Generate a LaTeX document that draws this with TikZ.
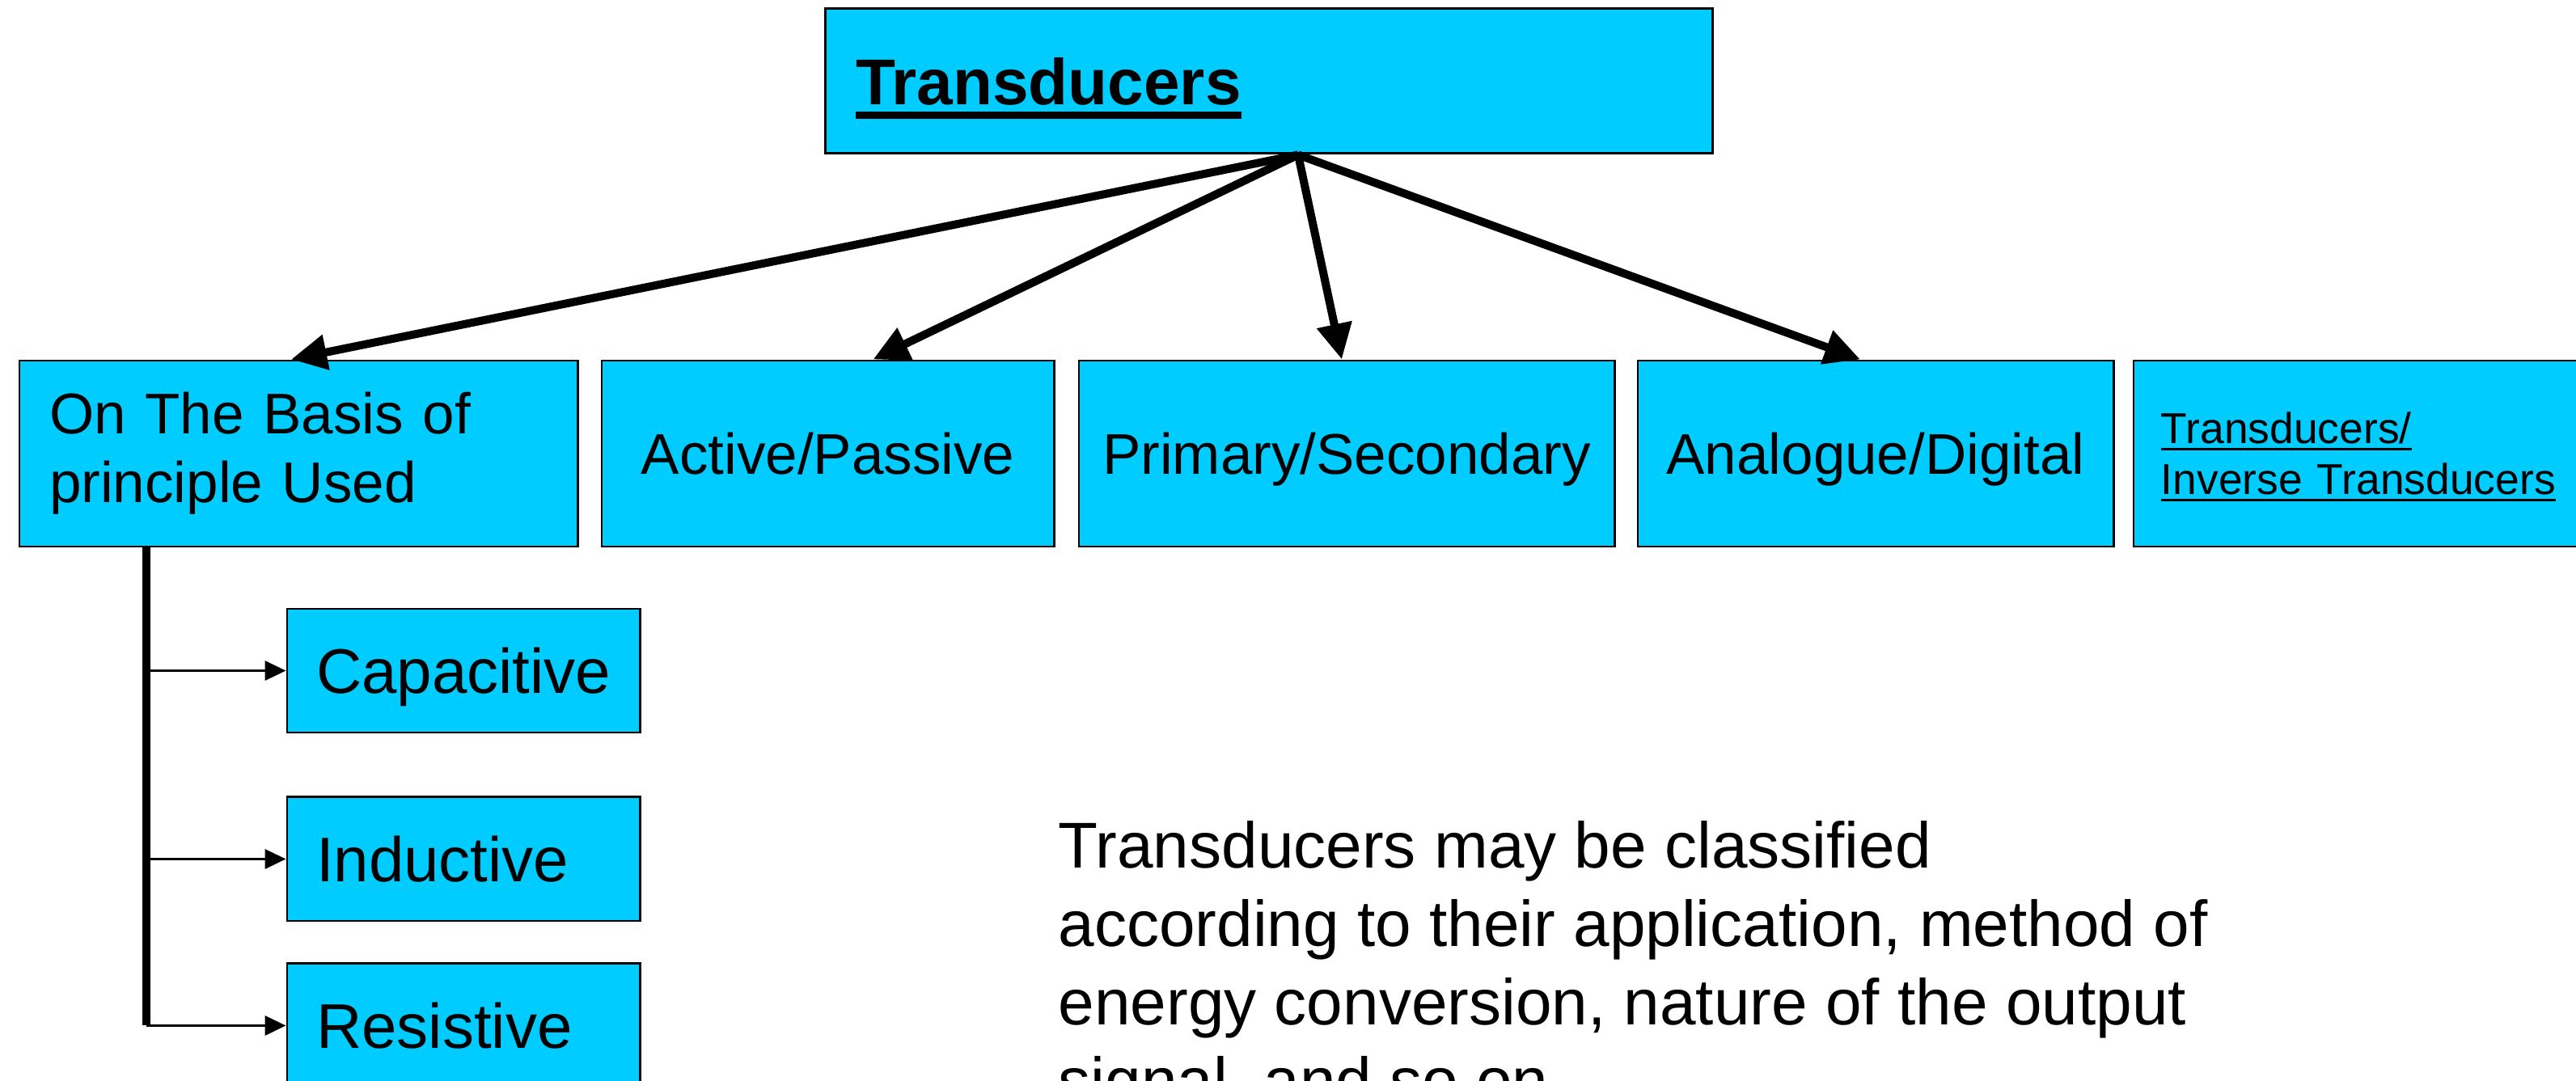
\documentclass[tikz,border=0pt]{standalone}
\usepackage{fontspec}
\setmainfont{Liberation Sans}
\usepackage{tikz}
\usetikzlibrary{arrows.meta, positioning}
\definecolor{boxcyan}{RGB}{0, 204, 255}

% underline with a given rule thickness
\newcommand{\undl}[2][0.06em]{\leavevmode\setbox0\hbox{#2}%
  \rlap{\smash{\rule[\dimexpr-0.1em-#1\relax]{\wd0}{#1}}}\box0}
\newcommand{\titlefont}{\fontsize{22.8pt}{27pt}\selectfont\bfseries}
\newcommand{\rowfont}{\fontsize{20.2pt}{24.2pt}\selectfont}
\newcommand{\subfont}{\fontsize{22.2pt}{26pt}\selectfont}
\newcommand{\tinyfont}{\fontsize{15.2pt}{17.9pt}\selectfont}
\newcommand{\notefont}{\fontsize{22.8pt}{27.6pt}\selectfont}

\tikzset{
  box/.style={draw=black, line width=0.85pt, fill=boxcyan, inner ysep=0pt,
    minimum height=2.30cm},
  oneline/.style={text depth=0pt},
  subbox/.style={box, oneline, minimum height=1.53cm, text width=3.64cm,
    inner xsep=0.36cm, align=left, font=\subfont},
  bigarrow/.style={line width=2.85pt, -{Triangle[length=0.44cm, width=0.42cm]}},
  subarrow/.style={line width=1pt, -{Triangle[length=0.26cm, width=0.24cm]}},
}

\begin{document}
\begin{tikzpicture}
    \useasboundingbox (0,0) rectangle (31.85,13.36);
    \clip (0,0) rectangle (31.85,13.36);
    % top level
    \node[box, oneline, text width=10.21cm, inner xsep=0.38cm, minimum height=1.79cm,
      align=left, font=\titlefont] (root) at (15.685,12.355)
      {\undl[0.12em]{Transducers}};
    % kinds of classification
    \node[box, text width=6.16cm, inner xsep=0.37cm, align=left, font=\rowfont]
      (b1) at (3.69,7.75) {On The Basis of\\ principle Used};
    \node[box, oneline, minimum width=5.59cm, font=\rowfont, right=0.27cm of b1]
      (b2) {Active/Passive};
    \node[box, oneline, minimum width=6.62cm, font=\rowfont, right=0.28cm of b2]
      (b3) {Primary/Secondary};
    \node[box, oneline, minimum width=5.88cm, font=\rowfont, right=0.26cm of b3]
      (b4) {Analogue/Digital};
    \node[box, text width=4.84cm, inner xsep=0.34cm, align=left, font=\tinyfont,
      right=0.22cm of b4] (b5)
      {\undl[0.055em]{Transducers/}\\ \undl[0.055em]{Inverse Transducers}};
    % principle used
    \node[subbox] (cap) at (5.73,5.065) {Capacitive};
    \node[subbox, below=0.77cm of cap] (ind) {Inductive};
    \node[subbox, below=0.50cm of ind] (res) {Resistive};
    % arrows from the top box
    \coordinate (hub) at ([xshift=0.365cm]root.south);
    \draw[bigarrow] (hub) -- ([xshift=-0.09cm]b1.north);
    \draw[bigarrow] (hub) -- ([xshift=0.56cm]b2.north);
    \draw[bigarrow] (hub) -- ([xshift=-0.06cm]b3.north);
    \draw[bigarrow] (hub) -- ([xshift=-0.19cm]b4.north);
    % trunk and branches
    \coordinate (trunk) at ([xshift=1.58cm]b1.south west);
    \draw[line width=2.85pt] (trunk) -- (trunk |- res.west);
    \foreach \n in {cap, ind, res}
      \draw[subarrow] (trunk |- \n.west) -- (\n.west);
    % note
    \node[anchor=north west, inner sep=0pt, align=left, font=\notefont] (note)
      at (13.08,3.21) {Transducers may be classified\\
      according to their application, method of\\
      energy conversion, nature of the output\\
      signal, and so on.};
\end{tikzpicture}
\end{document}
